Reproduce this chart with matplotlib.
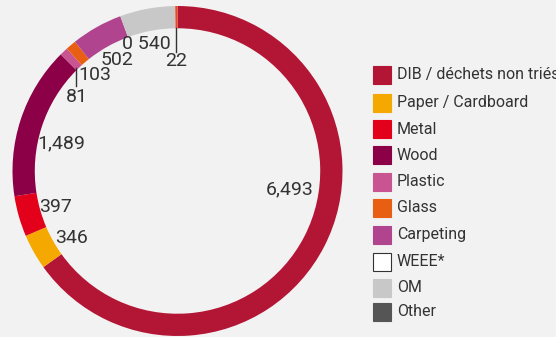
import matplotlib
matplotlib.use("Agg")
import matplotlib.pyplot as plt
from matplotlib.patches import Rectangle

categories = ["DIB / déchets non triés", "Paper / Cardboard", "Metal", "Wood",
              "Plastic", "Glass", "Carpeting", "WEEE*", "OM", "Other"]
values = [6493, 346, 397, 1489, 81, 103, 502, 0, 540, 22]
value_labels = ["6,493", "346", "397", "1,489", "81", "103", "502", "0", "540", "22"]

slice_colors = ["#b31535", "#f5a800", "#e2001a", "#8b0046", "#c85592",
                "#e85e13", "#b0448e", "#ffffff", "#c8c8c8", "#e84c1e"]
legend_colors = ["#b31535", "#f5a800", "#e2001a", "#8b0046", "#c85592",
                 "#e85e13", "#b0448e", "#ffffff", "#c8c8c8", "#555555"]

BG = "#f2f2f2"
TXT = "#333333"
W, H = 556, 337
plt.rcParams['font.family'] = ['Roboto', 'DejaVu Sans']

fig = plt.figure(figsize=(W / 100, H / 100), dpi=100, facecolor=BG)
cx, cy, R = 177.5, 171, 165
ax = fig.add_axes([(cx - R) / W, (H - cy - R) / H, 2 * R / W, 2 * R / H])
ax.set_facecolor(BG)
ax.pie(values, colors=slice_colors, startangle=90, counterclock=False,
       radius=1, wedgeprops=dict(width=0.135, linewidth=0))
ax.set_xlim(-1, 1)
ax.set_ylim(-1, 1)
ax.set_aspect('equal')
ax.axis('off')

# label positions (data coords)
label_pos = {
    "6,493": (0.679, -0.112),
    "346": (-0.645, -0.406),
    "397": (-0.736, -0.218),
    "1,489": (-0.706, 0.170),
    "81": (-0.609, 0.448),
    "103": (-0.503, 0.582),
    "502": (-0.364, 0.673),
    "22": (-0.009, 0.664),
}
fs = 14
for lab in value_labels:
    if lab in label_pos:
        x, y = label_pos[lab]
        ax.text(x, y, lab, ha='center', va='center', fontsize=fs, color=TXT)
ax.text(-0.191, 0.767, value_labels[7] + " " + value_labels[8], ha='center', va='center',
        fontsize=fs, color=TXT)
# leader lines
ax.plot([-0.615, -0.615], [0.624, 0.515], color=TXT, lw=1)
ax.plot([-0.011, -0.011], [0.867, 0.721], color=TXT, lw=1)

# legend
ys = [75, 103, 129, 155, 182, 208, 235, 262, 288, 312]
for cat, col, yc in zip(categories, legend_colors, ys):
    ec = "#333333" if col == "#ffffff" else col
    fig.add_artist(Rectangle((373 / W, (H - yc - 9) / H), 18 / W, 18 / H,
                             transform=fig.transFigure, facecolor=col,
                             edgecolor=ec, linewidth=0.8))
    fig.text(397 / W, (H - yc) / H, cat, ha='left', va='center',
             fontsize=11.5, color=TXT)

fig.savefig("out.png", dpi=100, facecolor=BG)
